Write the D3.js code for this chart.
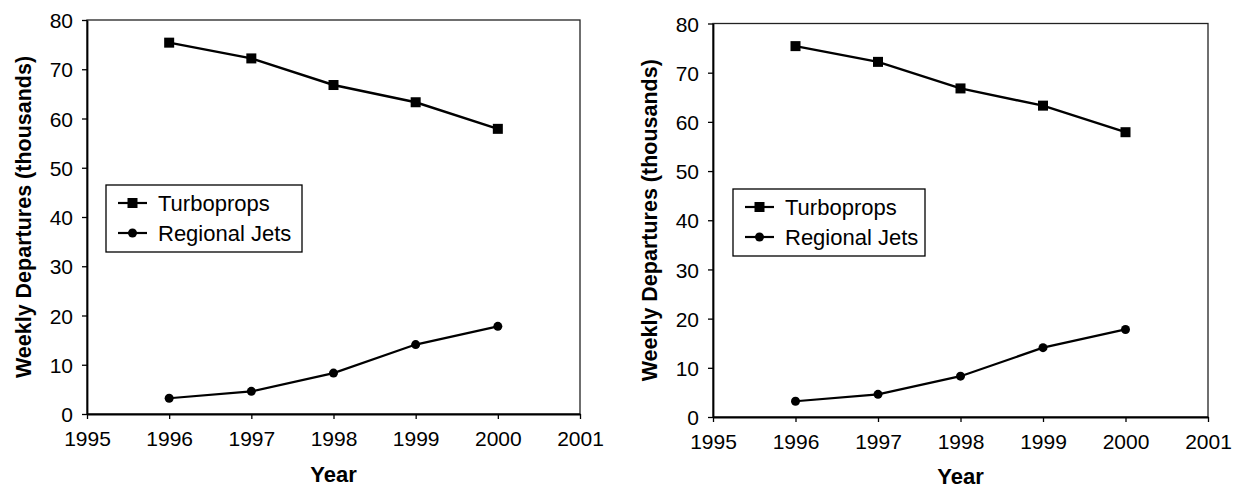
<!DOCTYPE html>
<html>
<head>
<meta charset="utf-8">
<script src="https://cdn.jsdelivr.net/npm/d3@7"></script>
<style>
  body { margin: 0; background: #fff; }
  svg { display: block; font-family: "Liberation Sans", Arial, sans-serif; }
</style>
</head>
<body>
<svg id="chart" width="1238" height="488"></svg>
<script>
// Weekly departures, turboprops vs regional jets (two identical panels)
const years = [1996, 1997, 1998, 1999, 2000];
const turboprops = [75.4, 72.2, 66.8, 63.3, 57.9];
const regionalJets = [3.2, 4.6, 8.3, 14.1, 17.8];
const xTicks = [1995, 1996, 1997, 1998, 1999, 2000, 2001];
const yTicks = [0, 10, 20, 30, 40, 50, 60, 70, 80];
const seriesNames = ["Turboprops", "Regional Jets"];

const svg = d3.select("#chart");

// panel geometry
const panels = [
  { left: 87, right: 580, top: 20, bottom: 414, titleX: 23, yearY: 482,
    legend: { x: 106, y: 185, w: 196, h: 67 } },
  { left: 713, right: 1208, top: 23.5, bottom: 417, titleX: 649, yearY: 484,
    legend: { x: 733, y: 189, w: 192, h: 67 } }
];

function drawPanel(p) {
  const g = svg.append("g");
  const x = d3.scaleLinear().domain([1995, 2001]).range([p.left, p.right]);
  const y = d3.scaleLinear().domain([0, 80]).range([p.bottom, p.top]);

  // plot frame (top / right)
  g.append("rect")
    .attr("x", p.left).attr("y", p.top)
    .attr("width", p.right - p.left).attr("height", p.bottom - p.top)
    .attr("fill", "none").attr("stroke", "#222").attr("stroke-width", 1.3);

  // axes
  const xAxis = g.append("g")
    .attr("transform", `translate(0,${p.bottom})`)
    .call(d3.axisBottom(x).tickValues(xTicks).tickFormat(d3.format("d"))
      .tickSize(5).tickSizeOuter(0).tickPadding(12));
  const yAxis = g.append("g")
    .attr("transform", `translate(${p.left},0)`)
    .call(d3.axisLeft(y).tickValues(yTicks).tickSize(5).tickSizeOuter(0).tickPadding(9));

  [xAxis, yAxis].forEach(a => {
    a.select(".domain").attr("stroke", "#000").attr("stroke-width", 1.8);
    a.selectAll(".tick line").attr("stroke", "#000").attr("stroke-width", 1.3);
    a.selectAll(".tick text")
      .attr("fill", "#000")
      .style("font-size", "21px")
      .style("font-family", "'Liberation Sans', Arial, sans-serif");
  });
  yAxis.selectAll(".tick text").attr("dy", "0.36em");

  // axis titles
  g.append("text")
    .attr("x", (p.left + p.right) / 2).attr("y", p.yearY)
    .attr("text-anchor", "middle")
    .style("font-size", "22px").style("font-weight", "bold")
    .text("Year");
  g.append("text")
    .attr("transform", `translate(${p.titleX},${(p.top + p.bottom) / 2}) rotate(-90)`)
    .attr("text-anchor", "middle").attr("dy", "0.36em")
    .style("font-size", "21.5px").style("font-weight", "bold")
    .text("Weekly Departures (thousands)");

  const line = d3.line().x((d, i) => x(years[i])).y(d => y(d));

  // turboprops
  g.append("path").datum(turboprops)
    .attr("d", line).attr("fill", "none")
    .attr("stroke", "#000").attr("stroke-width", 2.4);
  g.selectAll(".sq").data(turboprops).enter().append("rect")
    .attr("x", (d, i) => x(years[i]) - 5)
    .attr("y", d => y(d) - 5)
    .attr("width", 10).attr("height", 10)
    .attr("fill", "#000");

  // regional jets
  g.append("path").datum(regionalJets)
    .attr("d", line).attr("fill", "none")
    .attr("stroke", "#000").attr("stroke-width", 2.2);
  g.selectAll(".dot").data(regionalJets).enter().append("circle")
    .attr("cx", (d, i) => x(years[i]))
    .attr("cy", d => y(d))
    .attr("r", 4.5)
    .attr("fill", "#000");

  // legend
  const L = p.legend;
  const lg = g.append("g");
  lg.append("rect")
    .attr("x", L.x).attr("y", L.y).attr("width", L.w).attr("height", L.h)
    .attr("fill", "#fff").attr("stroke", "#000").attr("stroke-width", 1.3);
  seriesNames.forEach((name, i) => {
    const cy = L.y + 18 + i * 30;
    const x0 = L.x + 12, x1 = L.x + 41, xm = (x0 + x1) / 2;
    lg.append("line")
      .attr("x1", x0).attr("x2", x1).attr("y1", cy).attr("y2", cy)
      .attr("stroke", "#000").attr("stroke-width", 2.2);
    if (i === 0) {
      lg.append("rect").attr("x", xm - 5).attr("y", cy - 5)
        .attr("width", 10).attr("height", 10).attr("fill", "#000");
    } else {
      lg.append("circle").attr("cx", xm).attr("cy", cy).attr("r", 4.5).attr("fill", "#000");
    }
    lg.append("text")
      .attr("x", L.x + 52).attr("y", cy).attr("dy", "0.36em")
      .style("font-size", "22px")
      .text(name);
  });
}

panels.forEach(drawPanel);
</script>
</body>
</html>
